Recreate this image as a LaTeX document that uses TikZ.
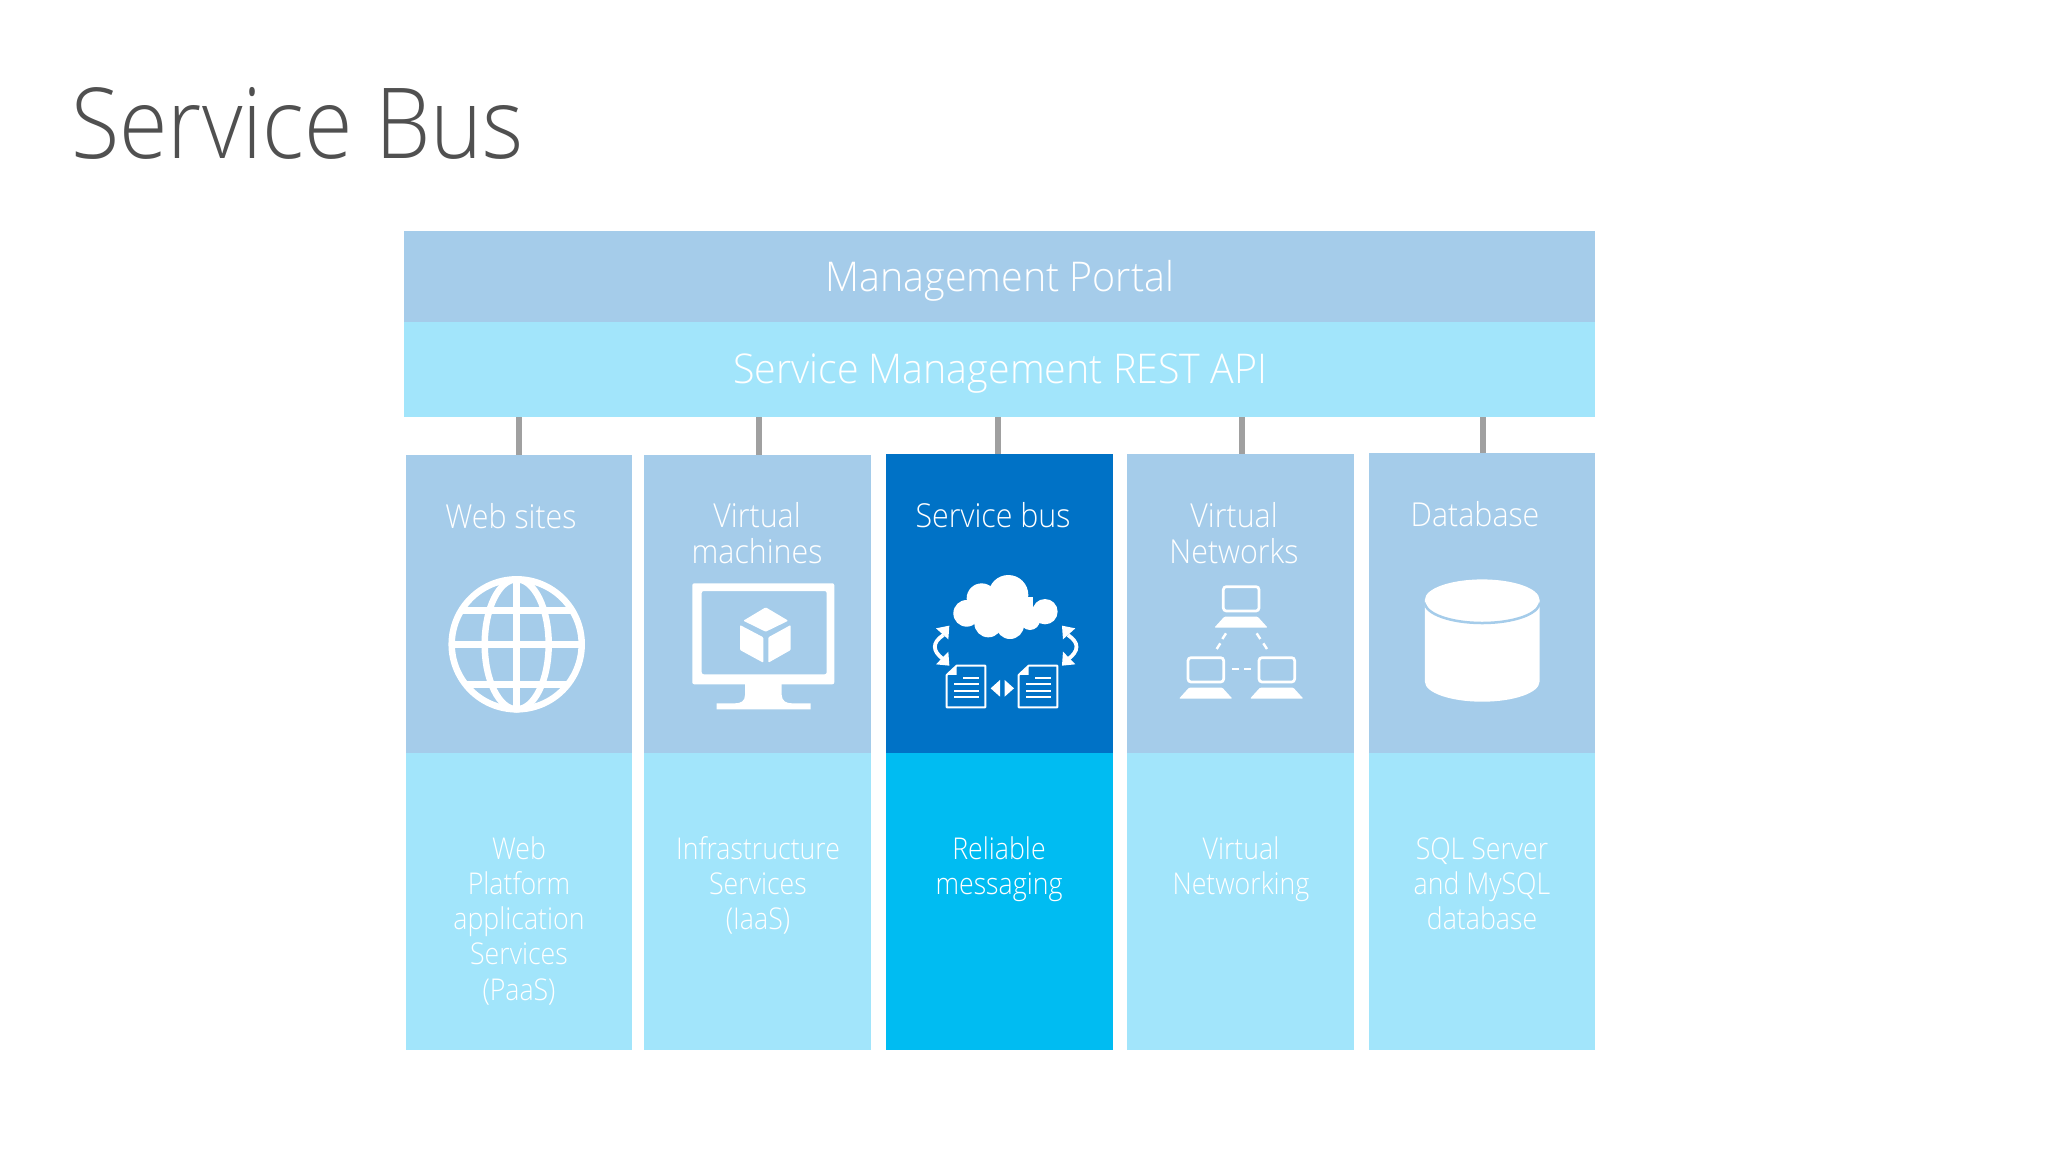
\documentclass[tikz,border=0pt]{standalone}
\usepackage{fontspec}
\setmainfont{Open Sans Light}[FakeStretch=0.89]
\newfontfamily\titlefont{Open Sans Light}[FakeStretch=0.90]
\newfontfamily\barfont{Open Sans Light}[FakeStretch=0.96]
\newfontfamily\headfont{Open Sans Light}[FakeStretch=0.92]
\definecolor{paleblue}{HTML}{A5CCEA}
\definecolor{palecyan}{HTML}{A2E5FB}
\definecolor{deepblue}{HTML}{0072C6}
\definecolor{brightcyan}{HTML}{00BCF2}
\definecolor{linkgrey}{HTML}{A0A0A0}
\definecolor{titlegrey}{HTML}{505050}
\tikzset{
  x=1pt,y=-1pt,
  panel/.style={draw=none,inner sep=0pt,outer sep=0pt,anchor=north west},
  link/.style={draw=linkgrey,line width=6pt},
  bigtext/.style={text=white,font=\barfont\fontsize{41}{48}\selectfont,anchor=base,inner sep=0pt},
  headtext/.style={text=white,font=\headfont\fontsize{33}{36}\selectfont,anchor=base,inner sep=0pt,align=center},
  bodytext/.style={text=white,font=\fontsize{30}{35.3}\selectfont,anchor=base,inner sep=0pt,align=center},
  ico/.style={fill=white,draw=none},
  icoline/.style={draw=white,fill=none},
}
\begin{document}
\begin{tikzpicture}
\useasboundingbox (0,0) rectangle (2048,1152);
\fill[white] (0,0) rectangle (2048,1152);
\node[anchor=base west,inner sep=0pt,text=titlegrey,font=\titlefont\fontsize{98}{110}\selectfont] (title) at (71,158) {Service Bus};
% header bars
\node[panel,fill=paleblue,minimum width=1191pt,minimum height=91pt] (portal) at (404,231) {};
\node[panel,fill=palecyan,minimum width=1191pt,minimum height=95pt] (rest) at (404,322) {};
\node[bigtext] (portaltext) at (1000,291) {Management Portal};
\node[bigtext] (resttext) at (1000,383) {Service Management REST API};
% columns
\node[panel,fill=paleblue,minimum width=226pt,minimum height=298pt] (top1) at (406,455) {};
\node[panel,fill=paleblue,minimum width=227pt,minimum height=298pt] (top2) at (644,455) {};
\node[panel,fill=deepblue,minimum width=227pt,minimum height=299pt] (top3) at (886,454) {};
\node[panel,fill=paleblue,minimum width=227pt,minimum height=299pt] (top4) at (1127,454) {};
\node[panel,fill=paleblue,minimum width=226pt,minimum height=300pt] (top5) at (1369,453) {};
\node[panel,fill=palecyan,minimum width=226pt,minimum height=297pt] (bot1) at (406,753) {};
\node[panel,fill=palecyan,minimum width=227pt,minimum height=297pt] (bot2) at (644,753) {};
\node[panel,fill=brightcyan,minimum width=227pt,minimum height=297pt] (bot3) at (886,753) {};
\node[panel,fill=palecyan,minimum width=227pt,minimum height=297pt] (bot4) at (1127,753) {};
\node[panel,fill=palecyan,minimum width=226pt,minimum height=297pt] (bot5) at (1369,753) {};
% connectors
\coordinate (c1) at (519,417);
\coordinate (c2) at (759,417);
\coordinate (c3) at (998,417);
\coordinate (c4) at (1242,417);
\coordinate (c5) at (1483,417);
\draw[link] (c1) -- (c1 |- top1.north);
\draw[link] (c2) -- (c2 |- top2.north);
\draw[link] (c3) -- (c3 |- top3.north);
\draw[link] (c4) -- (c4 |- top4.north);
\draw[link] (c5) -- (c5 |- top5.north);
% column titles (anchored at the last line's baseline)
\node[headtext] (h1) at (511,528) {Web sites};
\node[headtext] (h2) at (757,563) {Virtual\\machines};
\node[headtext] (h3) at (993,527) {Service bus};
\node[headtext] (h4) at (1234,563) {Virtual\\Networks};
\node[headtext] (h5) at (1475,526) {Database};
% column bodies
\node[bodytext] (b1) at (519,1000.2) {Web\\Platform\\application\\Services\\(PaaS)};
\node[bodytext] (b2) at (758,929.6) {Infrastructure\\Services\\(IaaS)};
\node[bodytext] (b3) at (999,894.3) {Reliable\\messaging};
\node[bodytext] (b4) at (1241,894.3) {Virtual\\Networking};
\node[bodytext] (b5) at (1482,929.6) {SQL Server\\and MySQL\\database};
% globe
\begin{scope}[shift={(516.7,644.3)},icoline,line width=6.5pt]
  \draw (0,0) circle[radius=65];
  \draw (0,0) ellipse[x radius=32,y radius=65];
  \draw (0,-65) -- (0,65);
  \draw (-65,0) -- (65,0);
  \draw (-55.4,-34) -- (55.4,-34);
  \draw (-51.4,40) -- (51.4,40);
\end{scope}
% monitor
\begin{scope}
  \fill[ico,rounded corners=2pt,even odd rule] (692.3,583.3) rectangle (834.3,684.3) (701.7,591) rectangle (826.7,674.3);
  \fill[ico] (745,684) -- (781.7,684) -- (781.7,695) .. controls (782,701) and (786,703.3) .. (792,703.3) -- (810.7,703.3) -- (810.7,709.3) -- (716.7,709.3) -- (716.7,703.3) -- (735,703.3) .. controls (741,703.3) and (745,701) .. (745,695) -- cycle;
  \fill[ico,rounded corners=1pt] (765.7,607.3) -- (788.3,620.7) -- (765.7,631.7) -- (743.3,620.7) -- cycle;
  \fill[ico,rounded corners=1pt] (740,625) -- (763.3,637.3) -- (763.3,662.7) -- (740,650) -- cycle;
  \fill[ico,rounded corners=1pt] (768.3,637.3) -- (790.7,625) -- (790.7,650) -- (768.3,662.7) -- cycle;
\end{scope}
% cloud, arrows, documents
\begin{scope}[shift={(920,560)},x=0.3333pt,y=-0.3333pt]
  \fill[ico] (265,105) circle[radius=60];
  \fill[ico] (185,115) circle[radius=45];
  \fill[ico] (140,160) circle[radius=40];
  \fill[ico] (375,155) circle[radius=38];
  \fill[ico] (205,190) circle[radius=42];
  \fill[ico] (270,195) circle[radius=42];
  \fill[ico] (330,180) circle[radius=30];
  \fill[ico] (190,110) rectangle (340,190);
  \foreach \m/\o in {1/0,-1/514}{
    \begin{scope}[shift={(\o,0)},xscale=\m]
      \draw[icoline,line width=3.8pt] (70,225) .. controls (36,248) and (36,272) .. (70,298);
      \fill[ico] (48,205) -- (88,197) -- (85,238) -- cycle;
      \fill[ico] (48,313) -- (88,317) -- (85,275) -- cycle;
    \end{scope}
  }
  \foreach \o in {0,216}{
    \begin{scope}[shift={(\o,0)}]
      \draw[icoline,line width=2pt,line join=round] (80,345) -- (110,317) -- (196,317) -- (196,442) -- (80,442) -- cycle;
      \fill[ico] (80,345) -- (110,317) -- (110,345) -- cycle;
      \fill[ico] (130,352) rectangle (177,358);
      \fill[ico] (102,370) rectangle (177,376);
      \fill[ico] (102,389) rectangle (177,395);
      \fill[ico] (102,407) rectangle (177,413);
    \end{scope}
  }
  \fill[ico] (212,385) -- (240,360) -- (240,410) -- cycle;
  \fill[ico] (282,385) -- (254,360) -- (254,410) -- cycle;
\end{scope}
% laptops
\begin{scope}[shift={(1165,575)},x=0.3333pt,y=-0.3333pt]
  \foreach \dx/\dy in {0/0,-106/213,107/213}{
    \begin{scope}[shift={(\dx,\dy)}]
      \draw[icoline,line width=2.7pt,rounded corners=3pt] (175,35) rectangle (282,108);
      \fill[ico,rounded corners=1pt] (178,125) -- (278,125) -- (308,158) -- (148,158) -- cycle;
    \end{scope}
  }
  \draw[icoline,line width=2.4pt] (183,175) -- (172,192) (166,205) -- (155,222);
  \draw[icoline,line width=2.4pt] (275,175) -- (286,192) (295,205) -- (306,222);
  \draw[icoline,line width=2.4pt] (202,282) -- (222,282) (238,282) -- (258,282);
\end{scope}
% database
\begin{scope}[shift={(-2.5,0)}]
\fill[ico] (1427.4,600) -- (1427.4,681.7) arc[start angle=180,end angle=0,x radius=57.3,y radius=20] -- (1542,600) -- cycle;
\draw[draw=paleblue,line width=2.5pt] (1427.4,602.5) arc[start angle=180,end angle=0,x radius=57.3,y radius=20.5];
\fill[ico] (1484.7,599.7) ellipse[x radius=57.3,y radius=20.3];
\end{scope}
\end{tikzpicture}
\end{document}
